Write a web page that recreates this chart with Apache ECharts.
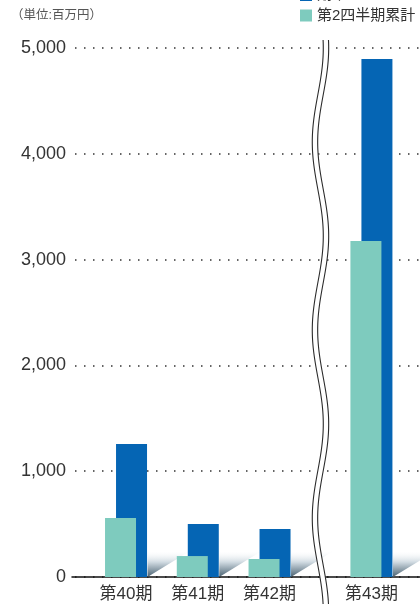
<!DOCTYPE html>
<html><head><meta charset="utf-8">
<script src="https://cdn.jsdelivr.net/npm/echarts@6/dist/echarts.min.js"></script>
<style>html,body{margin:0;padding:0;background:#fff}#c{width:420px;height:605px}</style>
</head><body><div id="c"></div>
<script>
const categories = ['第40期', '第41期', '第42期', '第43期'];
const fullYear = [1257, 501, 454, 4896];      // 期末 (blue)
const firstHalf = [558, 198, 170, 3176];      // 第2四半期累計 (teal)
const yTicks = [0, 1000, 2000, 3000, 4000, 5000];
const seriesNames = ['期末', '第2四半期累計'];

// layout: the axis break pushes the last category a little to the right
const BREAK_SHIFT = 0.42;
const xOf = i => i + (i >= 3 ? BREAK_SHIFT : 0);
const xPos = categories.map((c, i) => xOf(i));

const FONT = '"Liberation Sans", "Noto Sans CJK JP", sans-serif';
const BLUE = '#0565b4';
const TEAL = '#7ecbbe';

const chart = echarts.init(document.getElementById('c'), null, {renderer: 'canvas'});

const option = {
  animation: false,
  title: {
    text: '（単位:百万円）', left: 11, top: 9, padding: 0,
    textStyle: {fontSize: 12.5, fontWeight: 'normal', color: '#555', fontFamily: FONT}
  },
  legend: {
    data: seriesNames, orient: 'vertical', left: 300, top: -12.5, padding: 0,
    itemGap: 5.5, itemWidth: 12, itemHeight: 12, icon: 'rect', selectedMode: false,
    textStyle: {fontSize: 15, color: '#333', fontFamily: FONT}
  },
  grid: {left: 72, right: 0, top: 48, bottom: 28, containLabel: false},
  xAxis: {
    type: 'value', min: -0.753, max: 4.097,
    splitLine: {show: false},
    axisTick: {show: false},
    axisLine: {show: true, onZero: false, lineStyle: {color: '#111', width: 1.5}},
    axisLabel: {
      customValues: xPos, margin: 9,
      fontSize: 17, color: '#333', fontFamily: FONT,
      formatter: v => { const i = xPos.findIndex(p => Math.abs(p - v) < 1e-6); return i >= 0 ? categories[i] : ''; }
    }
  },
  yAxis: {
    type: 'value', min: yTicks[0], max: yTicks[yTicks.length - 1], interval: yTicks[1] - yTicks[0],
    axisLine: {show: false}, axisTick: {show: false},
    axisLabel: {fontSize: 18, color: '#333', fontFamily: FONT, margin: 6},
    splitLine: {show: true, lineStyle: {color: '#333', width: 1.5, type: [1.5, 7.5], dashOffset: -3, cap: 'butt'}}
  },
  series: [
    {
      type: 'custom', name: 'shadow', silent: true, z: 1,
      data: fullYear.map((v, i) => [xOf(i), v]),
      renderItem: (params, api) => {
        const p = api.coord([api.value(0), 0]);
        const re = p[0] + 21.5;
        const base = p[1];
        const W = 44, H = 27;
        return {
          type: 'polygon',
          shape: {points: [[re, base], [re, base - H], [re + W, base - H]]},
          style: {
            fill: new echarts.graphic.LinearGradient(0, 0, 0, 1, [
              {offset: 0, color: 'rgba(255,255,255,0)'},
              {offset: 0.45, color: '#d0dae1'},
              {offset: 1, color: '#4a6272'}
            ])
          }
        };
      }
    },
    {
      type: 'bar', name: seriesNames[1], z: 3,
      data: firstHalf.map((v, i) => [xOf(i), v]),
      barWidth: 31, barGap: '-64.5%',
      itemStyle: {color: TEAL}
    },
    {
      type: 'bar', name: seriesNames[0], z: 2,
      data: fullYear.map((v, i) => [xOf(i), v]),
      barWidth: 31, barGap: '-64.5%',
      itemStyle: {color: BLUE}
    }
  ]
};
chart.setOption(option);

// axis-break decoration (two wavy lines)
function drawBreak() {
  const cx = chart.convertToPixel({xAxisIndex: 0}, 2.71);
  const yTop = chart.convertToPixel({yAxisIndex: 0}, yTicks[yTicks.length - 1]) - 8;
  const yBot = 605;
  const y0 = chart.convertToPixel({yAxisIndex: 0}, yTicks[yTicks.length - 1]);
  const mk = (dx) => {
    const pts = [];
    for (let y = yTop; y <= yBot; y += 2) {
      pts.push([cx + dx + 5.5 * Math.cos(2 * Math.PI * (y - y0) / 188), y]);
    }
    return pts;
  };
  chart.setOption({
    graphic: [
      {type: 'polyline', z: 50, silent: true, shape: {points: mk(0)}, style: {stroke: '#fff', lineWidth: 5.5, fill: null}},
      {type: 'polyline', z: 51, silent: true, shape: {points: mk(-2.7)}, style: {stroke: '#2a2a2a', lineWidth: 1.1, fill: null}},
      {type: 'polyline', z: 51, silent: true, shape: {points: mk(2.7)}, style: {stroke: '#2a2a2a', lineWidth: 1.1, fill: null}}
    ]
  });
}
drawBreak();
</script>
</body></html>
